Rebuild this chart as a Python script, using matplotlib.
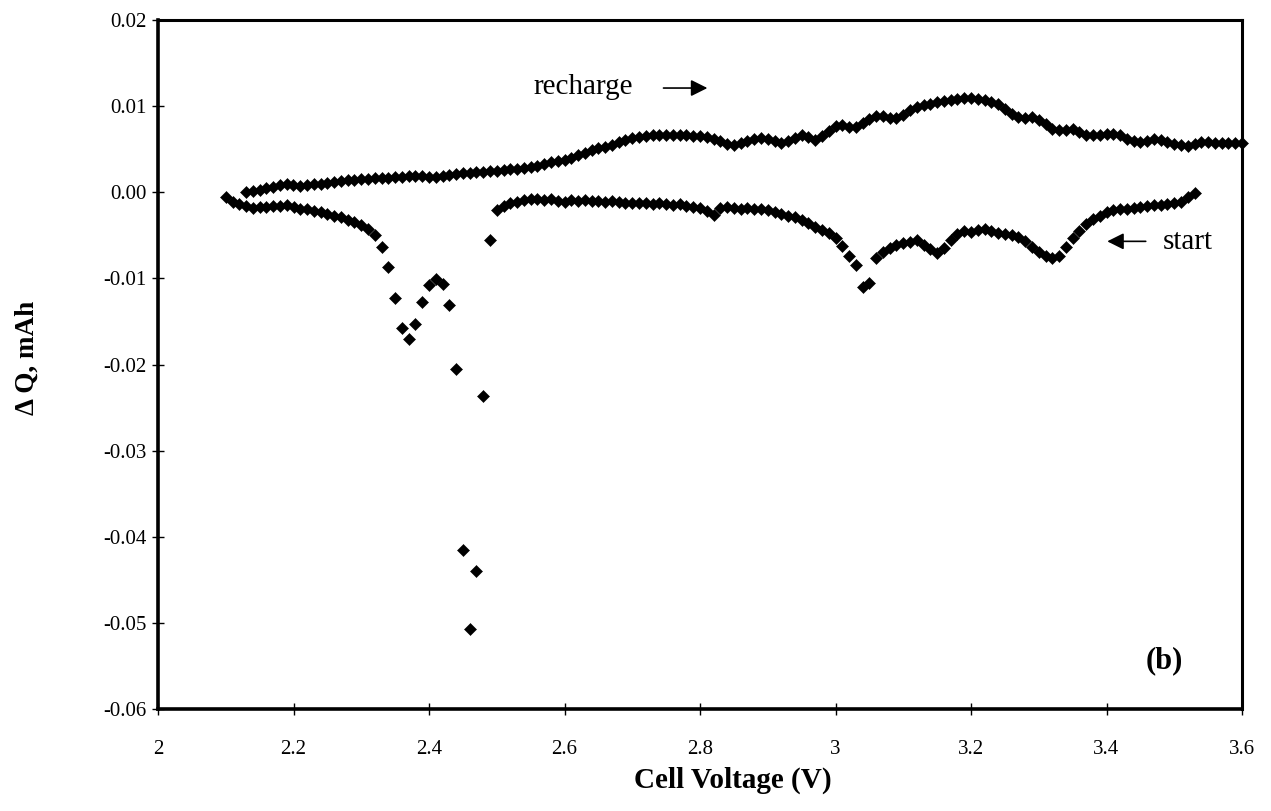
import numpy as np
import matplotlib
matplotlib.use('Agg')
import matplotlib.pyplot as plt

plt.rcParams['font.family'] = ['Liberation Serif', 'DejaVu Serif']
plt.rcParams['axes.unicode_minus'] = False

# discharge scan ("start"), sampled every 0.01 V from 2.10 V
start_v = 2.10
dq_discharge = [
    -0.0006, -0.0011, -0.0014, -0.0016, -0.0018, -0.0017, -0.0017, -0.0016, -0.0016, -0.0015,
    -0.0017, -0.0019, -0.0020, -0.0022, -0.0023, -0.0025, -0.0027, -0.0029, -0.0032, -0.0034,
    -0.0038, -0.0043, -0.0050, -0.0064, -0.0087, -0.0123, -0.0158, -0.0170, -0.0153, -0.0128,
    -0.0108, -0.0101, -0.0106, -0.0131, -0.0205, -0.0415, -0.0507, -0.0440, -0.0236, -0.0055,
    -0.0021, -0.0016, -0.0013, -0.0011, -0.0009, -0.0008, -0.0008, -0.0009, -0.0008, -0.0010,
    -0.0011, -0.0009, -0.0010, -0.0009, -0.0010, -0.0010, -0.0011, -0.0010, -0.0011, -0.0012,
    -0.0012, -0.0013, -0.0012, -0.0014, -0.0013, -0.0014, -0.0015, -0.0014, -0.0016, -0.0017,
    -0.0018, -0.0022, -0.0026, -0.0018, -0.0017, -0.0018, -0.0019, -0.0018, -0.0020, -0.0019,
    -0.0021, -0.0023, -0.0025, -0.0027, -0.0029, -0.0032, -0.0036, -0.0040, -0.0044, -0.0047,
    -0.0053, -0.0062, -0.0074, -0.0085, -0.0110, -0.0105, -0.0076, -0.0069, -0.0065, -0.0061,
    -0.0059, -0.0058, -0.0055, -0.0061, -0.0066, -0.0071, -0.0065, -0.0056, -0.0048, -0.0045,
    -0.0046, -0.0044, -0.0043, -0.0045, -0.0047, -0.0049, -0.0050, -0.0052, -0.0057, -0.0063,
    -0.0069, -0.0074, -0.0076, -0.0074, -0.0064, -0.0053, -0.0045, -0.0037, -0.0031, -0.0027,
    -0.0023, -0.0021, -0.0020, -0.0019, -0.0018, -0.0017, -0.0016, -0.0015, -0.0015, -0.0014,
    -0.0013, -0.0011, -0.0006, -0.0001,
]

# recharge scan, sampled every 0.01 V from 2.13 V
recharge_v = 2.13
dq_recharge = [
    0.0000, 0.0002, 0.0003, 0.0005, 0.0006, 0.0008, 0.0009, 0.0008, 0.0007, 0.0008,
    0.0009, 0.0010, 0.0011, 0.0012, 0.0013, 0.0014, 0.0014, 0.0015, 0.0015, 0.0016,
    0.0017, 0.0017, 0.0018, 0.0018, 0.0019, 0.0019, 0.0019, 0.0018, 0.0018, 0.0019,
    0.0020, 0.0021, 0.0022, 0.0022, 0.0023, 0.0024, 0.0025, 0.0025, 0.0026, 0.0027,
    0.0027, 0.0028, 0.0029, 0.0031, 0.0033, 0.0035, 0.0036, 0.0038, 0.0040, 0.0043,
    0.0046, 0.0049, 0.0051, 0.0053, 0.0055, 0.0058, 0.0061, 0.0063, 0.0064, 0.0065,
    0.0066, 0.0066, 0.0066, 0.0066, 0.0066, 0.0066, 0.0065, 0.0065, 0.0064, 0.0062,
    0.0059, 0.0056, 0.0055, 0.0057, 0.0060, 0.0062, 0.0063, 0.0062, 0.0059, 0.0057,
    0.0060, 0.0063, 0.0066, 0.0064, 0.0061, 0.0065, 0.0071, 0.0077, 0.0078, 0.0076,
    0.0076, 0.0080, 0.0085, 0.0089, 0.0088, 0.0086, 0.0086, 0.0090, 0.0095, 0.0099,
    0.0101, 0.0103, 0.0105, 0.0106, 0.0107, 0.0108, 0.0109, 0.0109, 0.0108, 0.0107,
    0.0105, 0.0102, 0.0097, 0.0091, 0.0087, 0.0086, 0.0087, 0.0084, 0.0079, 0.0074,
    0.0072, 0.0072, 0.0073, 0.0070, 0.0067, 0.0066, 0.0067, 0.0068, 0.0068, 0.0066,
    0.0062, 0.0059, 0.0058, 0.0060, 0.0062, 0.0061, 0.0058, 0.0056, 0.0055, 0.0054,
    0.0056, 0.0058, 0.0058, 0.0057, 0.0057, 0.0057, 0.0057, 0.0057,
]

x_ticks = [2, 2.2, 2.4, 2.6, 2.8, 3, 3.2, 3.4, 3.6]
x_labels = ['2', '2.2', '2.4', '2.6', '2.8', '3', '3.2', '3.4', '3.6']
y_ticks = [0.02, 0.01, 0.0, -0.01, -0.02, -0.03, -0.04, -0.05, -0.06]
y_labels = ['0.02', '0.01', '0.00', '-0.01', '-0.02', '-0.03', '-0.04', '-0.05', '-0.06']

v_dis = start_v + 0.01 * np.arange(len(dq_discharge))
v_rec = recharge_v + 0.01 * np.arange(len(dq_recharge))

fig = plt.figure(figsize=(12.71, 8.11), dpi=100)
ax = fig.add_axes([158 / 1271, 1 - 709 / 811, (1242 - 158) / 1271, (709 - 20) / 811])

ax.plot(v_dis, dq_discharge, ls='none', marker='D', ms=6.2, mew=0.4, color='black')
ax.plot(v_rec, dq_recharge, ls='none', marker='D', ms=6.2, mew=0.4, color='black',
        clip_on=False)

ax.set_xlim(2, 3.6)
ax.set_ylim(-0.06, 0.02)
ax.set_xticks(x_ticks)
ax.set_xticklabels(x_labels)
ax.set_yticks(y_ticks)
ax.set_yticklabels(y_labels)
ax.tick_params(direction='inout', length=8, width=1.0, labelsize=15, pad=4)
ax.tick_params(axis='x', pad=18)

for side in ['left', 'bottom']:
    ax.spines[side].set_linewidth(2.6)
for side in ['top', 'right']:
    ax.spines[side].set_linewidth(2.2)

ax.set_xlabel('Cell Voltage (V)', fontsize=21, fontweight='bold')
ax.xaxis.set_label_coords(0.53, -0.083)
ax.set_ylabel('\u0394 Q, mAh', fontsize=19.5, fontweight='bold')
ax.yaxis.set_label_coords(-0.109, 0.51)

# annotations
ax.text(2.628, 0.0122, 'recharge', fontsize=21, ha='center', va='center')
ax.annotate('', xy=(2.815, 0.0121), xytext=(2.742, 0.0121),
            arrowprops=dict(arrowstyle='-|>', color='black', lw=1.2,
                            mutation_scale=25))
ax.text(3.52, -0.0058, 'start', fontsize=21, ha='center', va='center')
ax.annotate('', xy=(3.397, -0.0057), xytext=(3.462, -0.0057),
            arrowprops=dict(arrowstyle='-|>', color='black', lw=1.2,
                            mutation_scale=25))
ax.text(3.485, -0.0544, '(b)', fontsize=22, fontweight='bold', ha='center', va='center')

fig.savefig('out.png', dpi=100)
